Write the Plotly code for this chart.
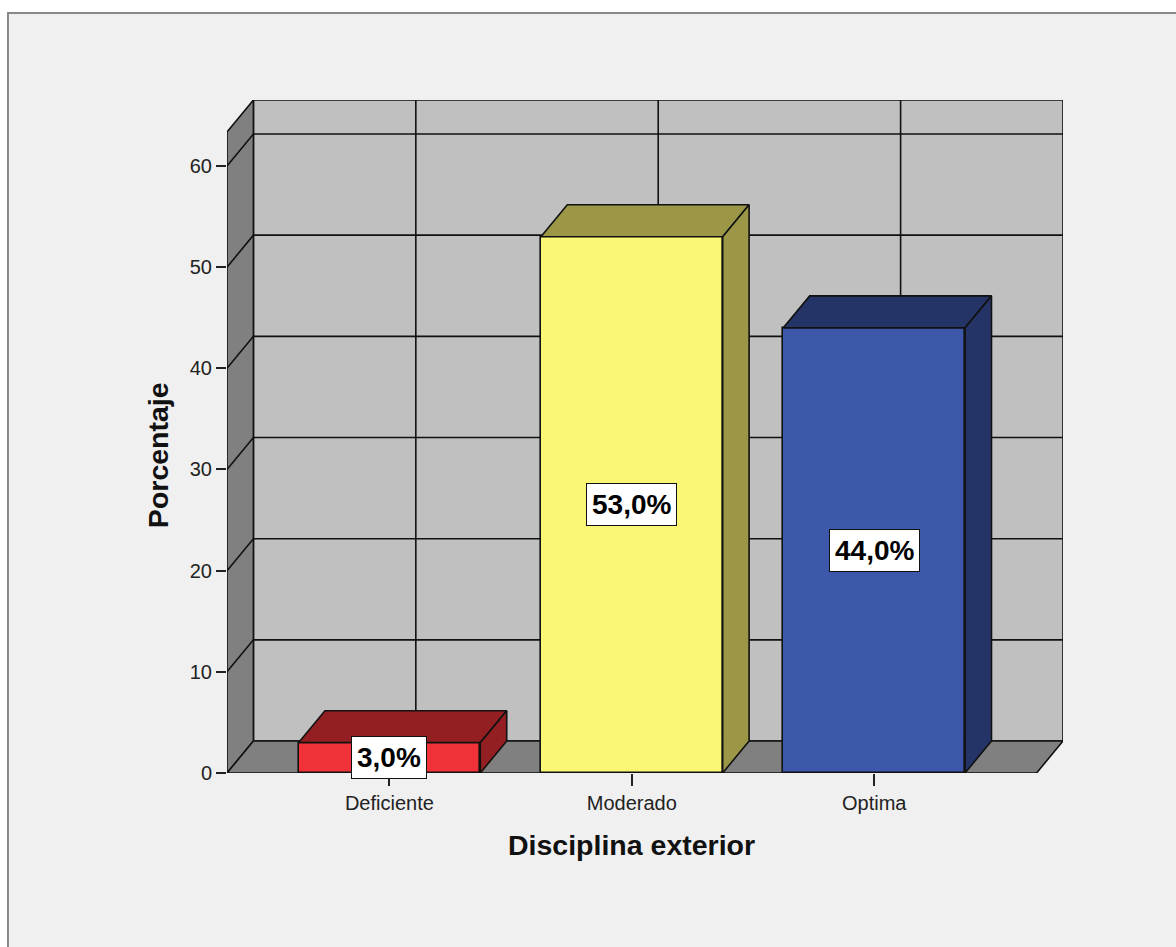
import plotly.graph_objects as go

# ---- data ----
categories = ["Deficiente", "Moderado", "Optima"]
percentages = [3.0, 53.0, 44.0]
y_ticks = [0, 10, 20, 30, 40, 50, 60]
x_title = "Disciplina exterior"
y_title = "Porcentaje"

# ---- styling / geometry constants ----
front_colors = ["#f03338", "#fbf776", "#3d58aa"]
dark_colors = ["#931f22", "#9b9746", "#243467"]
BAR_W = 0.75
XMIN, XMAXF = -0.67, 2.67      # front floor extent (data units)
YTOPF = 63.36                  # front top of the frame
DX, DY = 0.109, 3.16           # depth offset
WALL = "#c0c0c0"
SIDE = "#808080"
EDGE = "#111111"
FONT = "Liberation Sans, Arial, sans-serif"

fig = go.Figure()

# front faces of bars
fig.add_trace(go.Bar(
    x=list(range(len(categories))), y=percentages, width=BAR_W,
    marker=dict(color=front_colors, line=dict(color=EDGE, width=1.6)),
    hoverinfo="skip", showlegend=False))

# top and side faces
for i, v in enumerate(percentages):
    xl, xr = i - BAR_W / 2, i + BAR_W / 2
    fig.add_trace(go.Scatter(
        x=[xl, xr, xr + DX, xl + DX, xl], y=[v, v, v + DY, v + DY, v],
        mode="lines", fill="toself", fillcolor=dark_colors[i],
        line=dict(color=EDGE, width=1.6), hoverinfo="skip", showlegend=False))
    fig.add_trace(go.Scatter(
        x=[xr, xr + DX, xr + DX, xr, xr], y=[0, DY, v + DY, v, 0],
        mode="lines", fill="toself", fillcolor=dark_colors[i],
        line=dict(color=EDGE, width=1.6), hoverinfo="skip", showlegend=False))

# value labels
for i, v in enumerate(percentages):
    fig.add_annotation(
        x=i, y=v / 2, xref="x", yref="y",
        text=f"{v:.1f}".replace(".", ",") + "%", showarrow=False,
        font=dict(family=FONT, size=28, color="black", weight="bold"),
        bgcolor="white", bordercolor=EDGE, borderwidth=1, borderpad=5)

shapes = []
# outer frame (paper)
shapes.append(dict(type="rect", xref="paper", yref="paper",
                   x0=-0.262, x1=1.2, y0=-0.5, y1=1.1293,
                   fillcolor="#f0f0f0", line=dict(color="#888888", width=2),
                   layer="below"))
# back wall
shapes.append(dict(type="rect", xref="x", yref="y",
                   x0=XMIN + DX, x1=XMAXF + DX, y0=DY, y1=YTOPF + DY,
                   fillcolor=WALL, line=dict(color=EDGE, width=1.6), layer="below"))
# left side wall
shapes.append(dict(type="path", xref="x", yref="y",
                   path=f"M{XMIN},0 L{XMIN+DX},{DY} L{XMIN+DX},{YTOPF+DY} L{XMIN},{YTOPF} Z",
                   fillcolor=SIDE, line=dict(color=EDGE, width=1.6), layer="below"))
# floor
shapes.append(dict(type="path", xref="x", yref="y",
                   path=f"M{XMIN},0 L{XMAXF},0 L{XMAXF+DX},{DY} L{XMIN+DX},{DY} Z",
                   fillcolor=SIDE, line=dict(color=EDGE, width=1.6), layer="below"))
# horizontal grid lines (side wall diagonal + back wall)
for t in y_ticks[1:]:
    shapes.append(dict(type="path", xref="x", yref="y",
                       path=f"M{XMIN},{t} L{XMIN+DX},{t+DY} L{XMAXF+DX},{t+DY}",
                       line=dict(color=EDGE, width=1.6), layer="below"))
# vertical grid lines on back wall
for i in range(len(categories)):
    shapes.append(dict(type="line", xref="x", yref="y",
                       x0=i + DX, x1=i + DX, y0=DY, y1=YTOPF + DY,
                       line=dict(color=EDGE, width=1.6), layer="below"))

# axis titles
fig.add_annotation(x=(XMIN + XMAXF) / 2, y=-0.107, xref="x", yref="paper",
                   text=x_title, showarrow=False, yanchor="middle",
                   font=dict(family=FONT, size=28.5, color="#111", weight="bold"))
fig.add_annotation(x=-0.083, y=YTOPF / 2 - 0.3, xref="paper", yref="y",
                   text=y_title, showarrow=False, textangle=-90, xanchor="center",
                   font=dict(family=FONT, size=28.5, color="#111", weight="bold"))

fig.update_layout(
    width=1176, height=947,
    margin=dict(l=227, r=113, t=100, b=174),
    paper_bgcolor="white", plot_bgcolor="rgba(0,0,0,0)",
    shapes=shapes, bargap=0,
    font=dict(family=FONT, color="#222"),
    xaxis=dict(range=[XMIN, XMAXF + DX], tickvals=list(range(len(categories))),
               ticktext=categories, ticks="outside", ticklen=12, tickcolor="#222",
               tickwidth=1.5, tickfont=dict(size=20, color="#222"),
               showgrid=False, zeroline=False, showline=False, fixedrange=True),
    yaxis=dict(range=[0, YTOPF + DY], tickvals=y_ticks, ticks="outside",
               ticklen=10, tickcolor="#222", tickwidth=1.5,
               tickfont=dict(size=20, color="#222"),
               showgrid=False, zeroline=False, showline=False, fixedrange=True),
)

fig.write_html("out.html")
